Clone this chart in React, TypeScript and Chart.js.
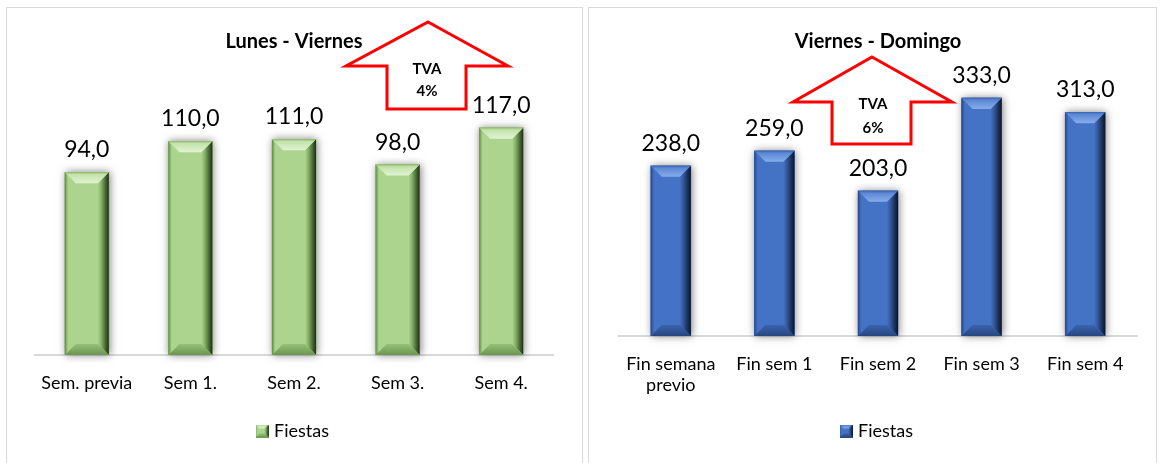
import React, { useEffect, useRef } from 'react';
import { Chart, registerables } from 'chart.js';

Chart.register(...registerables);

// ---------- data ----------
const seriesName = 'Fiestas';

const weekdayTitle = 'Lunes - Viernes';
const weekdayCategories: (string | string[])[] = ['Sem. previa', 'Sem 1.', 'Sem 2.', 'Sem 3.', 'Sem 4.'];
const weekdayValues = [94, 110, 111, 98, 117];
const weekdayAxisMax = 140;
const weekdayTva = ['TVA', '4%'];

const weekendTitle = 'Viernes - Domingo';
const weekendCategories: (string | string[])[] = [['Fin semana', 'previo'], 'Fin sem 1', 'Fin sem 2', 'Fin sem 3', 'Fin sem 4'];
const weekendValues = [238, 259, 203, 333, 313];
const weekendAxisMax = 400;
const weekendTva = ['TVA', '6%'];

// ---------- styles ----------
const FONT = 'Lato, Carlito, Calibri, "Noto Sans", sans-serif';

type Palette = {
  main: string;
  topEdge: string;
  topOuter: string;
  topInner: string;
  leftOuter: string;
  rightInner: string;
  rightOuter: string;
  bottomInner: string;
  bottomOuter: string;
};

const GREEN: Palette = {
  main: '#acd48f',
  topEdge: '#8fbd70',
  topOuter: '#c3e3aa',
  topInner: '#e0f3d2',
  leftOuter: '#5f8a43',
  rightInner: '#86b266',
  rightOuter: '#1c2e13',
  bottomInner: '#95c177',
  bottomOuter: '#6b9550',
};

const BLUE: Palette = {
  main: '#4472c4',
  topEdge: '#3a65b3',
  topOuter: '#5b88d4',
  topInner: '#88acec',
  leftOuter: '#27488a',
  rightInner: '#34599e',
  rightOuter: '#0a1428',
  bottomInner: '#3a63ad',
  bottomOuter: '#27467f',
};

function poly(ctx: CanvasRenderingContext2D, pts: number[][], fill: string | CanvasGradient) {
  ctx.beginPath();
  ctx.moveTo(pts[0][0], pts[0][1]);
  for (let i = 1; i < pts.length; i++) ctx.lineTo(pts[i][0], pts[i][1]);
  ctx.closePath();
  ctx.fillStyle = fill;
  ctx.fill();
}

function drawBevel(
  ctx: CanvasRenderingContext2D,
  l: number,
  t: number,
  r: number,
  b: number,
  p: Palette,
  bevel: number,
  shadow: boolean
) {
  const w = r - l;
  const h = b - t;
  if (w <= 0 || h <= 0) return;
  const s = Math.min(bevel, w / 2 - 1, h / 2);
  ctx.save();
  if (shadow) {
    ctx.shadowColor = 'rgba(0,0,0,0.5)';
    ctx.shadowBlur = 8;
    ctx.shadowOffsetX = 1;
  }
  ctx.fillStyle = p.main;
  ctx.fillRect(l, t, w, h);
  ctx.restore();

  // left face: thin darker outer line fading to the body colour
  const gl = ctx.createLinearGradient(l, 0, l + s, 0);
  gl.addColorStop(0, p.leftOuter);
  gl.addColorStop(0.3, p.main);
  gl.addColorStop(1, p.main);
  poly(ctx, [[l, t], [l + s, t + s], [l + s, b - s], [l, b]], gl);

  // right face: dark shading
  const gr = ctx.createLinearGradient(r - s, 0, r, 0);
  gr.addColorStop(0, p.main);
  gr.addColorStop(0.3, p.rightInner);
  gr.addColorStop(1, p.rightOuter);
  poly(ctx, [[r, t], [r - s, t + s], [r - s, b - s], [r, b]], gr);

  // top face: light wedge
  const gt = ctx.createLinearGradient(0, t, 0, t + s);
  gt.addColorStop(0, p.topEdge);
  gt.addColorStop(0.2, p.topOuter);
  gt.addColorStop(1, p.topInner);
  poly(ctx, [[l, t], [r, t], [r - s, t + s], [l + s, t + s]], gt);

  // bottom face: darker
  const gb = ctx.createLinearGradient(0, b - s, 0, b);
  gb.addColorStop(0, p.bottomInner);
  gb.addColorStop(1, p.bottomOuter);
  poly(ctx, [[l, b], [r, b], [r - s, b - s], [l + s, b - s]], gb);
}

function makeLegendIcon(p: Palette): HTMLCanvasElement {
  const c = document.createElement('canvas');
  c.width = 13;
  c.height = 13;
  const ctx = c.getContext('2d')!;
  drawBevel(ctx, 0, 0, 13, 13, p, 4, false);
  return c;
}

// ---------- plugins ----------
const bevelBarsPlugin = {
  id: 'bevelBars',
  afterDatasetsDraw(chart: any, _args: any, opts: any) {
    const ctx = chart.ctx as CanvasRenderingContext2D;
    const meta = chart.getDatasetMeta(0);
    meta.data.forEach((el: any) => {
      const { x, y, base, width } = el.getProps(['x', 'y', 'base', 'width'], true);
      drawBevel(ctx, x - width / 2, y, x + width / 2, base, opts.palette, opts.bevel, true);
    });
  },
};

const valueLabelsPlugin = {
  id: 'valueLabels',
  afterDatasetsDraw(chart: any, _args: any, opts: any) {
    const ctx = chart.ctx as CanvasRenderingContext2D;
    const meta = chart.getDatasetMeta(0);
    const data = chart.data.datasets[0].data as number[];
    ctx.save();
    ctx.font = `${opts.size}px ${FONT}`;
    ctx.fillStyle = '#000';
    ctx.textAlign = 'center';
    ctx.textBaseline = 'alphabetic';
    meta.data.forEach((el: any, i: number) => {
      const { x, y } = el.getProps(['x', 'y'], true);
      ctx.fillText(data[i].toFixed(1).replace('.', ','), x, y - opts.gap);
    });
    ctx.restore();
  },
};

const tvaArrowPlugin = {
  id: 'tvaArrow',
  afterDraw(chart: any, _args: any, a: any) {
    const ctx = chart.ctx as CanvasRenderingContext2D;
    ctx.save();
    ctx.beginPath();
    ctx.moveTo(a.cx, a.tipY);
    ctx.lineTo(a.headR, a.baseY);
    ctx.lineTo(a.shaftR, a.baseY);
    ctx.lineTo(a.shaftR, a.bottomY);
    ctx.lineTo(a.shaftL, a.bottomY);
    ctx.lineTo(a.shaftL, a.baseY);
    ctx.lineTo(a.headL, a.baseY);
    ctx.closePath();
    ctx.fillStyle = '#ffffff';
    ctx.fill();
    ctx.lineWidth = 3;
    ctx.lineJoin = 'miter';
    ctx.strokeStyle = '#ff0000';
    ctx.stroke();
    ctx.font = `bold 15px ${FONT}`;
    ctx.fillStyle = '#000';
    ctx.textAlign = 'center';
    ctx.textBaseline = 'middle';
    (a.lines as string[]).forEach((line, i) => {
      ctx.fillText(line, a.textX, a.textY[i]);
    });
    ctx.restore();
  },
};

// ---------- component ----------
type PanelProps = {
  left: number;
  width: number;
  title: string;
  categories: (string | string[])[];
  values: number[];
  axisMax: number;
  palette: Palette;
  barThickness: number;
  padLeft: number;
  padRight: number;
  padBottom: number;
  titlePadTop: number;
  titlePadBottom: number;
  xAxisHeight: number;
  arrow: any;
};

function Panel(props: PanelProps) {
  const ref = useRef<HTMLCanvasElement>(null);
  const canvasW = props.width - 2;
  const canvasH = 455;

  useEffect(() => {
    const icon = makeLegendIcon(props.palette);
    const chart = new Chart(ref.current!, {
      type: 'bar',
      data: {
        labels: props.categories as any,
        datasets: [
          {
            label: seriesName,
            data: props.values,
            backgroundColor: props.palette.main,
            borderWidth: 0,
            barThickness: props.barThickness,
          },
        ],
      },
      options: {
        responsive: false,
        animation: false,
        devicePixelRatio: 1,
        layout: {
          padding: { left: props.padLeft, right: props.padRight, top: 0, bottom: props.padBottom },
        },
        scales: {
          x: {
            grid: { display: false, drawTicks: false },
            border: { display: true, color: '#d9d9d9', width: 2 },
            ticks: {
              color: '#000',
              font: { family: FONT, size: 18 },
              padding: 17,
              maxRotation: 0,
              autoSkip: false,
            },
            afterFit: (scale: any) => {
              scale.height = props.xAxisHeight;
            },
          },
          y: {
            display: false,
            min: 0,
            max: props.axisMax,
          },
        },
        plugins: {
          title: {
            display: true,
            text: props.title,
            color: '#000',
            font: { family: FONT, size: 20, weight: 'bold' },
            padding: { top: props.titlePadTop, bottom: props.titlePadBottom },
          },
          legend: {
            display: true,
            position: 'bottom',
            labels: {
              color: '#000',
              font: { family: FONT, size: 18 },
              usePointStyle: true,
              pointStyle: icon as any,
              boxWidth: 6,
              padding: 10,
            },
          },
          tooltip: { enabled: false },
          bevelBars: {
            palette: props.palette,
            bevel: 11,
          },
          valueLabels: { size: 23, gap: 15 },
          tvaArrow: props.arrow,
        } as any,
      },
      plugins: [bevelBarsPlugin, valueLabelsPlugin, tvaArrowPlugin],
    });
    if ((document as any).fonts && (document as any).fonts.load) {
      Promise.all([
        (document as any).fonts.load(`18px Lato`),
        (document as any).fonts.load(`bold 18px Lato`),
      ])
        .then(() => chart.update())
        .catch(() => {});
    }
    return () => chart.destroy();
  }, []);

  return (
    <div
      style={{
        position: 'absolute',
        left: props.left,
        top: 7,
        width: props.width,
        height: 470,
        border: '1px solid #d9d9d9',
        borderBottom: 'none',
        boxSizing: 'border-box',
        background: '#fff',
      }}
    >
      <canvas ref={ref} width={canvasW} height={canvasH} style={{ display: 'block' }} />
    </div>
  );
}

export default function App() {
  return (
    <div
      style={{
        position: 'fixed',
        left: 0,
        top: 0,
        width: 1160,
        height: 463,
        background: '#fff',
        overflow: 'hidden',
      }}
    >
      <Panel
        left={6}
        width={577}
        title={weekdayTitle}
        categories={weekdayCategories}
        values={weekdayValues}
        axisMax={weekdayAxisMax}
        palette={GREEN}
        barThickness={44}
        padLeft={28}
        padRight={29}
        padBottom={13}
        titlePadTop={22}
        titlePadBottom={29}
        xAxisHeight={57}
        arrow={{
          cx: 421,
          tipY: 14,
          baseY: 58,
          headL: 339,
          headR: 501,
          shaftL: 380,
          shaftR: 459,
          bottomY: 101,
          lines: weekdayTva,
          textX: 420,
          textY: [61, 83],
        }}
      />
      <Panel
        left={588}
        width={569}
        title={weekendTitle}
        categories={weekendCategories}
        values={weekendValues}
        axisMax={weekendAxisMax}
        palette={BLUE}
        barThickness={40}
        padLeft={30}
        padRight={19}
        padBottom={13}
        titlePadTop={22}
        titlePadBottom={-4}
        xAxisHeight={76}
        arrow={{
          cx: 283,
          tipY: 49,
          baseY: 94,
          headL: 204,
          headR: 363,
          shaftL: 243,
          shaftR: 322,
          bottomY: 136,
          lines: weekendTva,
          textX: 284,
          textY: [96, 120],
        }}
      />
    </div>
  );
}
